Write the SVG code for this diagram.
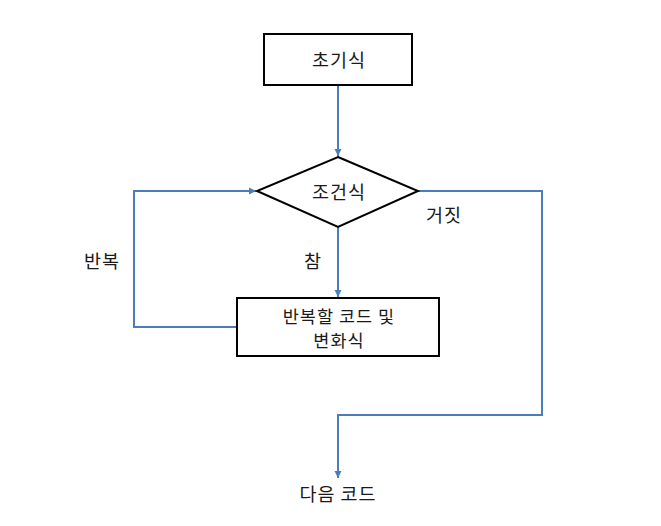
<svg xmlns="http://www.w3.org/2000/svg" width="661" height="526" viewBox="0 0 661 526">
<style>
.n{fill:#fff;stroke:#000;stroke-width:2}
.c{fill:none;stroke:#4a7ebb;stroke-width:2}
text{font-family:"Noto Sans CJK KR","Noto Sans CJK SC",sans-serif;font-size:18.5px;letter-spacing:1px;fill:#1a1a1a;text-anchor:middle}
.s{font-size:17.5px}
</style>
<defs>
<marker id="a" markerWidth="8" markerHeight="8" refX="7" refY="4" orient="auto" markerUnits="userSpaceOnUse">
<path d="M0,0.5 L7,4 L0,7.5 Z" fill="#4a7ebb"/>
</marker>
</defs>
<rect width="661" height="526" fill="#fff"/>
<g id="connectors">
<path class="c" d="M338,85 V156" marker-end="url(#a)"/>
<path class="c" d="M338,227 V297" marker-end="url(#a)"/>
<path class="c" d="M237,327 H134 V191 H256" marker-end="url(#a)"/>
<path class="c" d="M418,191 H542 V415 H338 V478" marker-end="url(#a)"/>
</g>
<g id="init">
<rect class="n" x="264" y="34" width="148" height="51"/>
<text x="339" y="67">초기식</text>
</g>
<g id="cond">
<polygon class="n" points="338,157 418,191 338,227 257,191"/>
<text x="339" y="199">조건식</text>
</g>
<g id="body">
<rect class="n" x="237" y="298" width="202" height="58"/>
<text class="s" x="339" y="323" letter-spacing="1.5">반복할 코드 및</text>
<text class="s" x="339" y="347" letter-spacing="1.5">변화식</text>
</g>
<g id="next">
<text x="338" y="501">다음 코드</text>
</g>
<g id="labels">
<text x="444" y="222">거짓</text>
<text x="313" y="268">참</text>
<text x="102" y="268">반복</text>
</g>
</svg>
